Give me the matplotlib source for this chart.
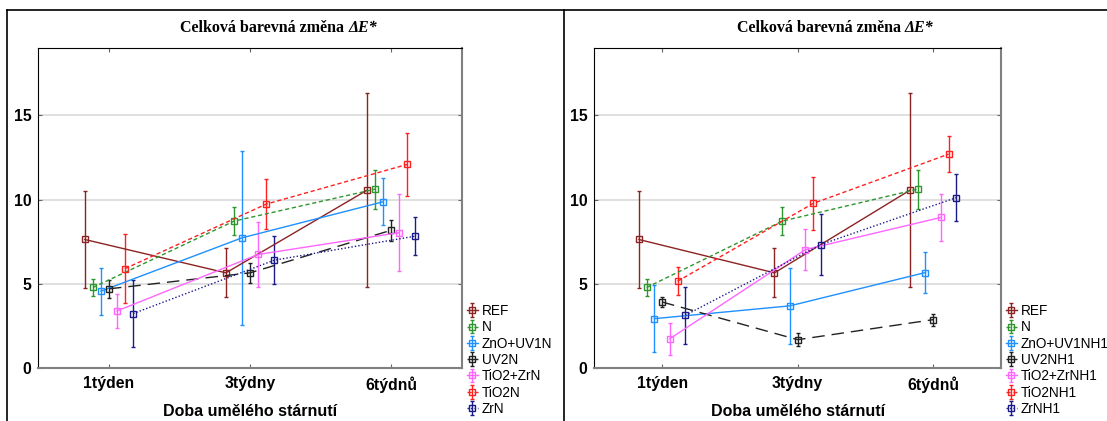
import numpy as np
import matplotlib
matplotlib.use("Agg")
import matplotlib.pyplot as plt
from matplotlib.lines import Line2D

plt.rcParams["font.family"] = ["Liberation Sans", "DejaVu Sans"]

# ── data ──────────────────────────────────────────────────────────────────────
categories = ["1týden", "3týdny", "6týdnů"]
title_main = "Celková barevná změna "
title_sym = "ΔE*"
xlabel_text = "Doba umělého stárnutí"

# levý panel
left_labels = ["REF", "N", "ZnO+UV1N", "UV2N", "TiO2+ZrN", "TiO2N", "ZrN"]
left_ref = [7.63, 5.65, 10.56]
left_ref_err = [2.90, 1.45, 5.77]
left_n = [4.78, 8.72, 10.62]
left_n_err = [0.53, 0.84, 1.16]
left_zno = [4.56, 7.73, 9.87]
left_zno_err = [1.40, 5.15, 1.40]
left_uv2 = [4.70, 5.65, 8.18]
left_uv2_err = [0.53, 0.60, 0.62]
left_tizr = [3.39, 6.74, 8.04]
left_tizr_err = [1.00, 1.95, 2.27]
left_tio2 = [5.90, 9.73, 12.09]
left_tio2_err = [2.03, 1.50, 1.85]
left_zr = [3.23, 6.40, 7.83]
left_zr_err = [1.98, 1.44, 1.12]

# pravý panel
right_labels = ["REF", "N", "ZnO+UV1NH1", "UV2NH1", "TiO2+ZrNH1", "TiO2NH1", "ZrNH1"]
right_ref = [7.63, 5.65, 10.56]
right_ref_err = [2.90, 1.45, 5.77]
right_n = [4.78, 8.72, 10.62]
right_n_err = [0.53, 0.84, 1.16]
right_zno = [2.93, 3.69, 5.67]
right_zno_err = [1.98, 2.25, 1.21]
right_uv2 = [3.92, 1.68, 2.87]
right_uv2_err = [0.28, 0.39, 0.35]
right_tizr = [1.74, 7.03, 8.94]
right_tizr_err = [0.96, 1.22, 1.40]
right_tio2 = [5.15, 9.77, 12.70]
right_tio2_err = [0.82, 1.56, 1.06]
right_zr = [3.13, 7.33, 10.12]
right_zr_err = [1.70, 1.80, 1.39]

# ── styl ──────────────────────────────────────────────────────────────────────
COLORS = ["#8B2323", "#2E962E", "#1E90FF", "#222222", "#FF66FF", "#FF2020", "#1A1A8B"]
STYLES = ["-", (0, (3, 2)), "-", (0, (9, 5)), "-", (0, (3, 2)), (0, (1, 1.5))]
STEP = 0.057


def draw_panel(ax, labels, means, errs):
    x = np.arange(len(categories))
    for i, (lab, m, e) in enumerate(zip(labels, means, errs)):
        xs = x + (i - 3) * STEP
        ax.errorbar(xs, m, yerr=e, color=COLORS[i], ls=STYLES[i], lw=1.0,
                    marker="s", ms=4.2, mfc="none", mec=COLORS[i], mew=1.0,
                    elinewidth=1.0, capsize=1.5, label=lab)
    ax.set_xlim(-0.5, 2.5)
    ax.set_ylim(0, 19)
    ax.set_xticks(x)
    ax.set_xticklabels(categories, fontweight="bold", fontsize=11.3)
    ax.set_yticks([0, 5, 10, 15])
    ax.set_yticklabels(["0", "5", "10", "15"], fontweight="bold", fontsize=11.3)
    ax.set_xlabel(xlabel_text, fontweight="bold", fontsize=11.5, labelpad=8)
    ax.yaxis.grid(True, color="#DDDDDD", lw=1.3)
    ax.set_axisbelow(True)
    ax.tick_params(axis="both", direction="in", length=3, color="#666666",
                   top=True, right=True)
    ax.tick_params(axis="y", pad=5)
    ax.tick_params(axis="x", pad=6)
    ax.spines["left"].set_color("black")
    ax.spines["top"].set_color("black")
    ax.spines["right"].set_color("#808080")
    ax.spines["bottom"].set_color("#808080")
    ax.spines["right"].set_linewidth(1.5)
    ax.spines["bottom"].set_linewidth(1.5)


fig = plt.figure(figsize=(11.07, 4.21), dpi=100)
W, H = 1107, 421

ax1 = fig.add_axes([38.4 / W, 1 - 368 / H, (461.8 - 38.4) / W, (368 - 48) / H])
ax2 = fig.add_axes([594.3 / W, 1 - 368 / H, (1001 - 594.3) / W, (368 - 48) / H])

draw_panel(ax1, left_labels,
           [left_ref, left_n, left_zno, left_uv2, left_tizr, left_tio2, left_zr],
           [left_ref_err, left_n_err, left_zno_err, left_uv2_err, left_tizr_err,
            left_tio2_err, left_zr_err])
draw_panel(ax2, right_labels,
           [right_ref, right_n, right_zno, right_uv2, right_tizr, right_tio2, right_zr],
           [right_ref_err, right_n_err, right_zno_err, right_uv2_err, right_tizr_err,
            right_tio2_err, right_zr_err])

for ax, lx in [(ax1, 467), (ax2, 1006)]:
    ax.legend(loc="upper left", bbox_to_anchor=(lx / W, 1 - 304 / H),
              bbox_transform=fig.transFigure, frameon=False, fontsize=9.8,
              handlelength=0.8, handletextpad=0.3, labelspacing=0.17,
              borderpad=0, borderaxespad=0)

# titulky: hlavní část tučně, symbol tučně kurzívou
fig.canvas.draw()
renderer = fig.canvas.get_renderer()
for cx in [278.6, 835]:
    t1 = fig.text(0, 1 - 28 / H, title_main, ha="left", va="center",
                  family="Liberation Serif", fontweight="bold", fontsize=11.5)
    t2 = fig.text(0, 1 - 28 / H, title_sym, ha="left", va="center",
                  family="Liberation Serif", fontweight="bold", style="italic",
                  fontsize=11.5)
    w1 = t1.get_window_extent(renderer).width
    w2 = t2.get_window_extent(renderer).width
    x0 = cx - (w1 + w2) / 2
    t1.set_x(x0 / W)
    t2.set_x((x0 + w1) / W)

# rámečky panelů
fig.add_artist(Line2D([7.3 / W, 7.3 / W], [0, 1 - 10 / H], color="black", lw=1.2))
fig.add_artist(Line2D([7.3 / W, 1], [1 - 10 / H, 1 - 10 / H], color="black", lw=1.2))
fig.add_artist(Line2D([563.5 / W, 563.5 / W], [0, 1 - 10 / H], color="black", lw=1.2))

fig.savefig("out.png", dpi=100)
